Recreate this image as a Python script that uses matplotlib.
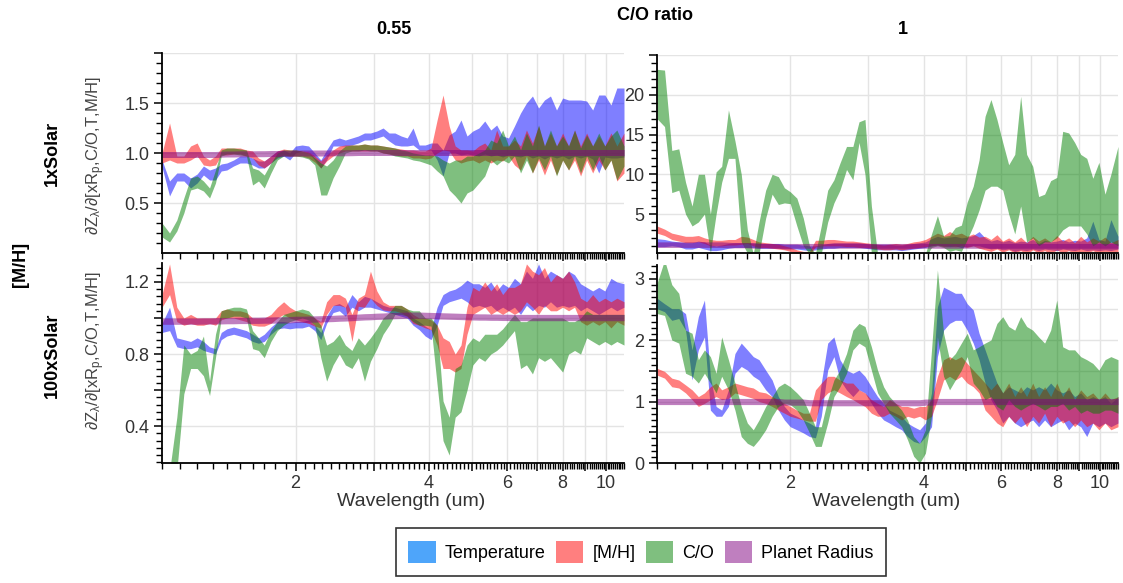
import numpy as np
import matplotlib
matplotlib.use("Agg")
import matplotlib.pyplot as plt
from matplotlib.patches import Patch
from matplotlib.ticker import FixedLocator, NullFormatter

plt.rcParams['font.family'] = ['Liberation Sans', 'DejaVu Sans']
plt.rcParams['mathtext.fontset'] = 'custom'
plt.rcParams['mathtext.rm'] = 'Liberation Sans'
plt.rcParams['mathtext.it'] = 'Liberation Sans'

# ---------------------------------------------------------------- data
SERIES = ["Temperature", "[M/H]", "C/O", "Planet Radius"]
BAND_COLORS = ["#0000ff", "#ff0000", "#008000", "#800080"]
LEGEND_COLORS = ["#4ea5fa", "#ff7f7f", "#7fbf7f", "#bf7fbf"]

WAVE = [1.00, 1.04, 1.08, 1.12, 1.16, 1.20, 1.24, 1.28, 1.32, 1.36,
        1.40, 1.45, 1.50, 1.55, 1.60, 1.65, 1.70, 1.76, 1.82, 1.88,
        1.94, 2.00, 2.07, 2.14, 2.21, 2.28, 2.35, 2.43, 2.51, 2.59,
        2.68, 2.77, 2.86, 2.95, 3.05, 3.15, 3.25, 3.35, 3.46, 3.57,
        3.68, 3.80, 3.92, 4.04, 4.17, 4.30, 4.44, 4.58, 4.72, 4.87,
        5.02, 5.18, 5.34, 5.51, 5.68, 5.86, 6.04, 6.23, 6.43, 6.63,
        6.84, 7.06, 7.28, 7.51, 7.75, 8.00, 8.25, 8.51, 8.78, 9.06,
        9.35, 9.65, 9.96, 10.28, 10.60, 11.00]

# --- 1xSolar, C/O = 0.55
TL_T_LO = [0.86, 0.57, 0.72, 0.72, 0.65, 0.70, 0.78, 0.73, 0.73, 0.82,
           0.83, 0.87, 0.90, 0.90, 0.88, 0.85, 0.85, 0.90, 0.95, 0.97,
           0.93, 1.00, 1.02, 1.00, 0.93, 0.85, 0.93, 1.07, 1.07, 1.07,
           1.08, 1.10, 1.13, 1.13, 1.15, 1.17, 1.12, 1.08, 1.07, 1.07,
           1.08, 1.03, 1.03, 1.03, 0.93, 0.77, 1.00, 1.00, 0.98, 0.99,
           0.98, 0.97, 0.99, 0.97, 0.98, 0.96, 0.98, 0.97, 0.96, 0.98,
           0.95, 0.97, 0.94, 0.97, 0.95, 0.97, 0.94, 0.97, 0.95, 0.97,
           0.94, 0.80, 0.96, 0.95, 0.95, 0.96]
TL_T_HI = [0.93, 0.72, 0.80, 0.80, 0.75, 0.79, 0.87, 0.83, 0.85, 0.89,
           0.90, 0.93, 0.97, 0.97, 0.95, 0.92, 0.92, 0.97, 1.02, 1.03,
           1.00, 1.07, 1.08, 1.07, 1.00, 0.93, 1.03, 1.13, 1.15, 1.13,
           1.15, 1.17, 1.20, 1.20, 1.22, 1.25, 1.20, 1.20, 1.17, 1.15,
           1.25, 1.08, 1.08, 1.10, 1.10, 1.03, 1.18, 1.22, 1.33, 1.17,
           1.22, 1.25, 1.32, 1.23, 1.28, 1.17, 1.15, 1.27, 1.40, 1.50,
           1.57, 1.45, 1.53, 1.57, 1.43, 1.55, 1.53, 1.53, 1.53, 1.52,
           1.43, 1.58, 1.58, 1.48, 1.65, 1.65]
TL_M_LO = [0.90, 0.93, 0.90, 0.90, 0.93, 0.97, 0.88, 0.87, 0.88, 0.98,
           0.98, 0.99, 0.99, 0.97, 0.95, 0.88, 0.85, 0.90, 0.96, 0.98,
           0.97, 0.97, 0.97, 0.95, 0.91, 0.85, 0.92, 0.97, 1.00, 1.02,
           1.02, 1.02, 1.02, 1.02, 1.02, 1.00, 0.99, 0.98, 0.97, 0.97,
           0.95, 0.95, 0.94, 0.95, 1.00, 1.03, 1.02, 0.93, 0.90, 0.92,
           0.93, 0.90, 0.93, 0.90, 0.93, 0.92, 0.97, 0.88, 0.83, 0.97,
           0.80, 0.93, 0.78, 0.93, 0.78, 0.93, 0.83, 0.93, 0.77, 0.93,
           0.80, 0.93, 0.83, 0.93, 0.72, 0.80]
TL_M_HI = [1.00, 1.30, 0.97, 0.97, 1.07, 1.10, 0.97, 0.93, 0.97, 1.05,
           1.05, 1.05, 1.05, 1.03, 1.02, 0.95, 0.92, 0.97, 1.02, 1.04,
           1.03, 1.03, 1.02, 1.01, 0.97, 0.92, 0.98, 1.03, 1.07, 1.08,
           1.08, 1.08, 1.09, 1.08, 1.08, 1.07, 1.06, 1.05, 1.04, 1.03,
           1.03, 1.02, 1.02, 1.05, 1.33, 1.58, 1.27, 1.07, 1.03, 1.03,
           1.02, 1.07, 1.10, 1.03, 1.23, 1.07, 1.07, 1.13, 1.07, 1.23,
           1.10, 1.27, 1.07, 1.20, 1.07, 1.20, 1.07, 1.23, 1.07, 1.20,
           1.07, 1.17, 1.07, 1.20, 1.07, 1.20]
TL_C_LO = [0.16, 0.11, 0.22, 0.40, 0.63, 0.65, 0.62, 0.55, 0.70, 0.97,
           0.99, 0.99, 0.98, 0.97, 0.68, 0.72, 0.65, 0.80, 0.93, 0.97,
           0.97, 0.97, 0.96, 0.94, 0.88, 0.58, 0.58, 0.75, 0.87, 1.00,
           1.02, 1.02, 1.03, 1.02, 1.02, 1.00, 0.99, 0.97, 0.96, 0.95,
           0.93, 0.92, 0.90, 0.88, 0.82, 0.77, 0.63, 0.57, 0.50, 0.60,
           0.63, 0.70, 0.77, 0.93, 0.88, 0.93, 0.90, 0.97, 0.80, 0.93,
           0.80, 0.95, 0.83, 0.97, 0.77, 0.93, 0.83, 0.97, 0.80, 0.97,
           0.83, 0.97, 0.83, 0.93, 0.73, 0.87]
TL_C_HI = [0.30, 0.20, 0.33, 0.55, 0.75, 0.77, 0.72, 0.65, 0.83, 1.03,
           1.05, 1.05, 1.04, 1.03, 0.85, 0.83, 0.78, 0.90, 1.00, 1.03,
           1.03, 1.03, 1.02, 1.00, 0.95, 0.90, 0.87, 0.93, 1.02, 1.07,
           1.08, 1.08, 1.09, 1.08, 1.08, 1.07, 1.06, 1.05, 1.03, 1.02,
           1.00, 0.99, 0.98, 0.98, 0.97, 0.93, 0.90, 0.93, 0.93, 0.97,
           0.97, 1.00, 1.03, 1.13, 1.10, 1.23, 1.07, 1.17, 1.03, 1.20,
           1.07, 1.28, 1.07, 1.23, 1.07, 1.17, 1.07, 1.23, 1.05, 1.18,
           1.07, 1.20, 1.07, 1.17, 1.23, 1.07]
TL_R_LO = [0.955, 0.955, 0.955, 0.955, 0.955, 0.955, 0.955, 0.955, 0.955, 0.958,
           0.960, 0.960, 0.962, 0.962, 0.962, 0.963, 0.963, 0.965, 0.965, 0.967,
           0.967, 0.968, 0.970, 0.970, 0.970, 0.970, 0.970, 0.972, 0.972, 0.972,
           0.973, 0.975, 0.975, 0.975, 0.975, 0.975, 0.975, 0.975, 0.975, 0.975,
           0.975, 0.975, 0.975, 0.975, 0.975, 0.975, 0.975, 0.975, 0.975, 0.975,
           0.975, 0.975, 0.975, 0.975, 0.975, 0.975, 0.975, 0.975, 0.975, 0.975,
           0.975, 0.975, 0.975, 0.975, 0.975, 0.975, 0.975, 0.975, 0.975, 0.975,
           0.975, 0.975, 0.975, 0.975, 0.975, 0.975]
TL_R_HI = [1.015, 1.015, 1.015, 1.015, 1.015, 1.015, 1.015, 1.015, 1.015, 1.018,
           1.020, 1.020, 1.022, 1.022, 1.022, 1.023, 1.023, 1.025, 1.025, 1.027,
           1.027, 1.028, 1.030, 1.030, 1.030, 1.030, 1.030, 1.032, 1.032, 1.032,
           1.033, 1.035, 1.035, 1.035, 1.035, 1.035, 1.035, 1.035, 1.035, 1.035,
           1.035, 1.035, 1.035, 1.035, 1.035, 1.035, 1.035, 1.035, 1.035, 1.035,
           1.035, 1.035, 1.035, 1.035, 1.035, 1.035, 1.035, 1.035, 1.035, 1.035,
           1.035, 1.035, 1.035, 1.035, 1.035, 1.035, 1.035, 1.035, 1.035, 1.035,
           1.035, 1.035, 1.035, 1.035, 1.035, 1.035]

# --- 1xSolar, C/O = 1
TR_T_LO = [0.9, 0.9, 1.0, 0.9, 0.6, 0.6, 0.8, 0.6, 0.4, 0.4,
           0.5, 0.7, 0.8, 0.8, 0.8, 0.8, 0.7, 0.7, 0.7, 0.7,
           0.6, 0.6, 0.6, 0.5, 0.4, 0.5, 0.6, 0.7, 0.7, 0.8,
           0.8, 0.8, 0.8, 0.7, 0.6, 0.5, 0.5, 0.5, 0.5, 0.4,
           0.5, 0.6, 0.7, 0.8, 1.0, 1.1, 1.0, 0.9, 1.0, 0.8,
           0.9, 1.0, 1.0, 0.8, 0.6, 0.7, 0.5, 0.6, 0.3, 0.5,
           0.4, 0.6, 0.4, 0.6, 0.5, 0.4, 0.6, 0.5, 0.4, 0.6,
           0.4, 0.5, 0.4, 0.5, 0.4, 0.6]
TR_T_HI = [1.9, 1.8, 1.6, 1.5, 1.4, 1.4, 1.6, 1.5, 1.1, 1.0,
           1.1, 1.3, 1.4, 1.4, 1.4, 1.4, 1.3, 1.3, 1.3, 1.3,
           1.2, 1.2, 1.2, 1.1, 1.0, 1.0, 1.1, 1.3, 1.4, 1.4,
           1.4, 1.4, 1.4, 1.3, 1.2, 1.2, 1.2, 1.2, 1.1, 1.1,
           1.2, 1.3, 1.4, 1.5, 1.9, 2.2, 2.0, 2.1, 2.2, 2.0,
           2.1, 2.3, 2.8, 2.0, 1.6, 1.8, 1.5, 1.7, 1.4, 1.6,
           1.5, 1.8, 1.3, 1.7, 1.5, 1.6, 1.8, 1.5, 1.7, 1.6,
           2.0, 4.1, 1.8, 1.6, 4.3, 2.2]
TR_M_LO = [2.6, 2.3, 1.8, 1.6, 1.4, 1.4, 1.5, 1.3, 1.0, 1.0,
           1.0, 1.1, 1.1, 1.2, 1.3, 1.0, 0.8, 0.8, 0.7, 0.6,
           0.5, 0.3, 0.0, -0.2, -0.2, 0.9, 1.0, 1.0, 1.0, 1.0,
           0.9, 0.9, 0.8, 0.8, 0.7, 0.6, 0.5, 0.5, 0.6, 0.5,
           0.6, 0.7, 0.8, 0.9, 1.0, 1.1, 0.9, 1.0, 0.9, 1.0,
           0.8, 1.0, 0.7, 0.5, 0.3, 0.6, 0.2, 0.5, 0.1, 0.4,
           0.0, 0.5, 0.1, 0.4, 0.0, 0.5, 0.1, 0.4, 0.0, 0.3,
           0.1, 0.4, 0.0, 0.3, 0.1, 0.3]
TR_M_HI = [3.5, 3.1, 2.6, 2.4, 2.2, 2.2, 2.3, 2.0, 1.8, 1.7,
           1.7, 1.8, 1.8, 2.2, 2.1, 1.8, 1.5, 1.4, 1.3, 1.2,
           1.0, 0.8, 0.5, 0.3, 0.3, 1.7, 1.7, 1.8, 1.8, 1.7,
           1.6, 1.6, 1.5, 1.4, 1.3, 1.2, 1.1, 1.2, 1.3, 1.2,
           1.3, 1.5, 1.6, 1.8, 2.2, 2.6, 2.3, 2.8, 2.4, 2.6,
           2.2, 2.5, 2.1, 2.2, 1.8, 2.4, 1.6, 2.0, 1.5, 2.1,
           1.4, 2.2, 1.6, 2.0, 1.5, 2.3, 1.6, 2.0, 1.4, 2.2,
           1.5, 2.0, 1.6, 2.1, 1.4, 1.8]
TR_C_LO = [17.0, 16.0, 7.7, 8.0, 5.0, 3.5, 4.0, 5.0, 0.1, 5.0,
           9.0, 12.0, 12.0, 1.5, 0.1, -0.5, 0.0, 4.5, 7.5, 6.2,
           6.4, 6.3, 3.5, 1.0, 0.0, -0.5, 0.0, 4.0, 6.4, 8.0,
           10.6, 9.3, 14.0, 10.0, 0.0, -0.5, -0.5, -0.5, -0.5, -0.5,
           -0.5, -0.5, -0.5, -0.5, 0.8, 1.0, 0.8, 0.3, 0.5, 0.3,
           1.8, 3.5, 5.5, 8.0, 8.5, 8.5, 8.0, 5.0, 2.5, 6.0,
           1.5, 2.0, 1.0, 1.5, 1.5, 2.0, 3.0, 3.5, 3.5, 3.5,
           2.5, 1.0, 1.5, 1.0, 1.5, 1.0]
TR_C_HI = [23.2, 23.1, 13.0, 13.2, 9.0, 6.0, 10.0, 10.0, 5.0, 10.3,
           11.0, 18.1, 14.2, 10.0, 3.0, 0.0, 4.0, 8.0, 10.0, 9.7,
           8.3, 7.8, 7.0, 4.5, 1.0, 0.0, 3.5, 8.0, 9.3, 11.4,
           13.5, 13.5, 16.6, 16.9, 6.0, 0.0, 0.0, 0.0, 0.0, 0.0,
           0.0, 0.0, 0.0, 0.0, 2.5, 4.8, 2.2, 2.3, 3.3, 3.6,
           6.5, 8.5, 11.8, 17.3, 19.4, 16.9, 14.0, 11.2, 12.5, 19.8,
           12.5, 11.0, 7.2, 7.5, 9.2, 9.6, 15.4, 15.2, 14.0, 12.5,
           12.0, 9.5, 11.5, 7.5, 10.0, 13.5]
TR_R_LO = [0.8, 0.8, 0.8, 0.8, 0.8, 0.8, 0.8, 0.8, 0.8, 0.8,
           0.8, 0.75, 0.75, 0.75, 0.75, 0.7, 0.7, 0.7, 0.7, 0.7,
           0.7, 0.7, 0.7, 0.7, 0.7, 0.7, 0.7, 0.7, 0.7, 0.7,
           0.7, 0.7, 0.7, 0.7, 0.7, 0.7, 0.7, 0.7, 0.7, 0.7,
           0.7, 0.7, 0.7, 0.7, 0.7, 0.7, 0.7, 0.7, 0.7, 0.7,
           0.7, 0.7, 0.7, 0.7, 0.7, 0.7, 0.7, 0.7, 0.7, 0.7,
           0.7, 0.7, 0.7, 0.7, 0.7, 0.7, 0.7, 0.7, 0.7, 0.7,
           0.7, 0.7, 0.7, 0.7, 0.7, 0.7]
TR_R_HI = [1.5, 1.5, 1.5, 1.5, 1.5, 1.5, 1.5, 1.5, 1.5, 1.5,
           1.5, 1.45, 1.4, 1.4, 1.4, 1.35, 1.35, 1.3, 1.3, 1.3,
           1.3, 1.3, 1.3, 1.3, 1.3, 1.3, 1.3, 1.3, 1.3, 1.3,
           1.3, 1.3, 1.3, 1.3, 1.3, 1.3, 1.3, 1.3, 1.3, 1.3,
           1.3, 1.3, 1.3, 1.3, 1.3, 1.3, 1.3, 1.3, 1.3, 1.3,
           1.3, 1.3, 1.3, 1.3, 1.3, 1.3, 1.3, 1.3, 1.3, 1.3,
           1.3, 1.3, 1.3, 1.3, 1.3, 1.3, 1.3, 1.3, 1.3, 1.3,
           1.3, 1.3, 1.3, 1.3, 1.3, 1.3]

# --- 100xSolar, C/O = 0.55
BL_T_LO = [0.92, 0.93, 0.84, 0.83, 0.83, 0.84, 0.82, 0.81, 0.80, 0.88,
           0.90, 0.91, 0.90, 0.89, 0.87, 0.86, 0.87, 0.91, 0.94, 0.945,
           0.94, 0.945, 0.945, 0.955, 0.93, 0.88, 0.97, 1.03, 1.04, 1.01,
           1.06, 1.04, 1.06, 1.06, 1.05, 1.04, 1.03, 1.02, 1.01, 1.00,
           0.96, 0.935, 0.90, 0.88, 0.96, 1.07, 1.09, 1.10, 1.11, 1.09,
           1.06, 1.07, 1.06, 1.07, 1.04, 1.06, 1.04, 1.06, 1.02, 1.07,
           1.04, 1.07, 1.06, 1.09, 1.06, 1.07, 1.06, 1.07, 1.04, 1.06,
           1.04, 1.02, 1.04, 1.06, 1.04, 1.06]
BL_T_HI = [0.97, 1.06, 0.89, 0.88, 0.87, 0.89, 0.87, 0.84, 0.83, 0.92,
           0.94, 0.95, 0.94, 0.93, 0.91, 0.89, 0.91, 0.95, 0.98, 0.98,
           0.975, 0.98, 0.98, 0.99, 0.96, 0.92, 1.01, 1.07, 1.08, 1.06,
           1.13, 1.09, 1.12, 1.11, 1.09, 1.07, 1.06, 1.06, 1.05, 1.04,
           1.00, 0.98, 0.955, 0.935, 1.06, 1.13, 1.15, 1.16, 1.18, 1.21,
           1.19, 1.19, 1.17, 1.20, 1.15, 1.19, 1.17, 1.22, 1.19, 1.26,
           1.22, 1.30, 1.22, 1.26, 1.24, 1.22, 1.26, 1.24, 1.19, 1.17,
           1.15, 1.17, 1.15, 1.22, 1.20, 1.19]
BL_M_LO = [1.06, 1.13, 0.98, 0.96, 0.97, 0.96, 0.96, 0.97, 0.96, 0.99,
           1.00, 1.00, 0.99, 0.98, 0.96, 0.955, 0.955, 0.97, 1.00, 1.02,
           1.00, 0.99, 0.98, 0.97, 0.955, 0.945, 1.02, 1.07, 1.07, 1.06,
           0.87, 1.065, 1.06, 1.11, 1.07, 1.045, 1.04, 1.04, 1.03, 1.01,
           0.97, 0.96, 0.945, 0.935, 0.85, 0.72, 0.72, 0.70, 0.72, 0.91,
           1.02, 1.04, 1.06, 1.02, 1.04, 1.02, 1.04, 1.02, 1.04, 1.09,
           1.06, 1.02, 1.07, 1.04, 1.04, 1.06, 1.04, 1.06, 0.98, 0.96,
           0.98, 0.96, 0.98, 0.945, 0.98, 0.96]
BL_M_HI = [1.13, 1.30, 1.06, 1.00, 1.02, 1.00, 1.00, 1.00, 1.00, 1.04,
           1.05, 1.04, 1.04, 1.03, 1.00, 1.00, 1.00, 1.02, 1.06, 1.09,
           1.06, 1.04, 1.03, 1.02, 1.00, 0.98, 1.09, 1.13, 1.13, 1.11,
           1.02, 1.11, 1.13, 1.26, 1.15, 1.09, 1.07, 1.07, 1.07, 1.05,
           1.02, 1.00, 1.00, 0.99, 0.96, 0.89, 0.87, 0.80, 0.85, 1.06,
           1.17, 1.15, 1.20, 1.15, 1.19, 1.13, 1.17, 1.17, 1.19, 1.30,
           1.26, 1.24, 1.28, 1.20, 1.24, 1.22, 1.26, 1.20, 1.11, 1.09,
           1.13, 1.09, 1.11, 1.09, 1.11, 1.09]
BL_C_LO = [0.00, 0.00, 0.15, 0.58, 0.72, 0.72, 0.68, 0.57, 0.78, 1.00,
           1.00, 1.01, 1.01, 1.00, 0.83, 0.82, 0.78, 0.87, 0.93, 0.96,
           0.98, 0.99, 1.00, 0.99, 0.96, 0.78, 0.65, 0.74, 0.80, 0.74,
           0.72, 0.78, 0.65, 0.76, 0.83, 0.91, 0.96, 1.02, 1.02, 1.01,
           0.98, 0.96, 0.96, 0.955, 0.63, 0.32, 0.24, 0.45, 0.48, 0.60,
           0.74, 0.78, 0.76, 0.80, 0.82, 0.85, 0.89, 0.93, 0.72, 0.74,
           0.69, 0.78, 0.76, 0.78, 0.74, 0.70, 0.80, 0.82, 0.80, 0.89,
           0.87, 0.85, 0.87, 0.85, 0.87, 0.85]
BL_C_HI = [0.10, 0.15, 0.45, 0.85, 0.80, 0.82, 0.90, 0.65, 0.91, 1.04,
           1.05, 1.06, 1.06, 1.05, 0.93, 0.89, 0.85, 0.93, 0.98, 1.02,
           1.03, 1.04, 1.05, 1.04, 1.00, 0.96, 0.85, 0.87, 0.91, 0.85,
           0.82, 0.89, 0.85, 0.89, 0.94, 1.00, 1.03, 1.07, 1.07, 1.05,
           1.04, 1.04, 1.00, 1.00, 0.96, 0.54, 0.45, 0.72, 0.74, 0.85,
           0.89, 0.87, 0.91, 0.91, 0.91, 0.94, 0.98, 1.02, 0.98, 0.98,
           1.00, 1.00, 1.00, 1.00, 1.00, 1.00, 0.98, 0.98, 1.00, 1.04,
           1.02, 1.02, 1.02, 1.02, 1.02, 1.02]
BL_R_LO = [0.965, 0.965, 0.965, 0.965, 0.965, 0.965, 0.966, 0.966, 0.967, 0.967,
           0.968, 0.968, 0.969, 0.969, 0.970, 0.970, 0.971, 0.971, 0.972, 0.972,
           0.973, 0.975, 0.975, 0.976, 0.977, 0.978, 0.979, 0.980, 0.982, 0.983,
           0.985, 0.987, 0.989, 0.990, 0.992, 0.993, 0.995, 0.996, 0.997, 0.998,
           0.998, 0.998, 0.997, 0.996, 0.995, 0.994, 0.993, 0.992, 0.991, 0.990,
           0.989, 0.988, 0.988, 0.987, 0.987, 0.986, 0.986, 0.985, 0.985, 0.985,
           0.985, 0.985, 0.985, 0.985, 0.985, 0.985, 0.985, 0.985, 0.985, 0.985,
           0.985, 0.985, 0.985, 0.985, 0.985, 0.985]
BL_R_HI = [1.000, 1.000, 1.000, 1.000, 1.000, 1.000, 1.001, 1.001, 1.002, 1.002,
           1.003, 1.003, 1.004, 1.004, 1.005, 1.005, 1.006, 1.006, 1.007, 1.007,
           1.008, 1.010, 1.010, 1.011, 1.012, 1.013, 1.014, 1.015, 1.017, 1.018,
           1.020, 1.022, 1.024, 1.025, 1.027, 1.028, 1.030, 1.031, 1.032, 1.033,
           1.033, 1.033, 1.032, 1.031, 1.030, 1.029, 1.028, 1.027, 1.026, 1.025,
           1.024, 1.023, 1.023, 1.022, 1.022, 1.021, 1.021, 1.020, 1.020, 1.020,
           1.020, 1.020, 1.020, 1.020, 1.020, 1.020, 1.020, 1.020, 1.020, 1.020,
           1.020, 1.020, 1.020, 1.020, 1.020, 1.020]

# --- 100xSolar, C/O = 1
BR_T_LO = [2.51, 2.46, 2.32, 2.35, 2.16, 1.35, 1.84, 2.05, 0.86, 0.76,
           0.76, 0.92, 1.46, 1.57, 1.51, 1.41, 1.35, 1.19, 1.08, 0.86,
           0.70, 0.59, 0.54, 0.49, 0.43, 0.41, 0.76, 1.51, 1.73, 1.35,
           1.19, 1.08, 1.19, 1.14, 0.97, 0.81, 0.70, 0.65, 0.59, 0.54,
           0.43, 0.35, 0.32, 0.43, 0.59, 1.73, 2.16, 2.27, 2.32, 2.32,
           2.16, 1.95, 1.68, 1.30, 1.03, 0.86, 0.65, 0.76, 0.65, 0.59,
           0.65, 0.70, 0.59, 0.70, 0.59, 0.65, 0.70, 0.54, 0.65, 0.59,
           0.43, 0.65, 0.59, 0.65, 0.59, 0.65]
BR_T_HI = [2.68, 2.59, 2.51, 2.51, 2.43, 1.84, 2.38, 2.65, 1.41, 0.92,
           0.86, 1.19, 1.78, 1.95, 1.84, 1.73, 1.68, 1.51, 1.35, 1.08,
           0.92, 0.81, 0.76, 0.70, 0.65, 0.59, 1.30, 1.95, 2.05, 1.68,
           1.51, 1.46, 1.51, 1.41, 1.24, 1.08, 0.97, 0.86, 0.81, 0.76,
           0.65, 0.59, 0.54, 0.65, 1.14, 2.54, 2.86, 2.81, 2.76, 2.76,
           2.59, 2.49, 2.11, 1.84, 1.57, 1.30, 1.14, 1.24, 1.19, 1.14,
           1.24, 1.19, 1.24, 1.19, 1.30, 1.19, 1.14, 1.19, 1.08, 1.14,
           1.03, 1.08, 1.03, 1.08, 0.97, 1.08]
BR_M_LO = [1.43, 1.38, 1.24, 1.22, 1.14, 1.03, 0.92, 0.97, 1.03, 1.08,
           1.03, 1.05, 1.14, 1.11, 1.08, 1.05, 1.00, 0.97, 0.92, 0.86,
           0.81, 0.76, 0.73, 0.70, 0.68, 0.68, 1.03, 1.14, 1.19, 1.14,
           1.08, 1.03, 0.97, 0.92, 0.81, 0.76, 0.76, 0.81, 0.76, 0.70,
           0.76, 0.73, 0.76, 0.70, 0.76, 1.03, 1.35, 1.41, 1.35, 1.41,
           1.30, 1.24, 1.14, 0.86, 0.76, 0.65, 0.59, 0.76, 0.65, 0.76,
           0.59, 0.76, 0.65, 0.81, 0.59, 0.76, 0.65, 0.70, 0.59, 0.70,
           0.59, 0.65, 0.54, 0.65, 0.54, 0.59]
BR_M_HI = [1.54, 1.49, 1.38, 1.35, 1.27, 1.19, 1.08, 1.14, 1.24, 1.30,
           1.19, 1.24, 1.30, 1.27, 1.24, 1.22, 1.16, 1.14, 1.08, 1.03,
           0.97, 0.92, 0.86, 0.81, 0.81, 1.19, 1.30, 1.41, 1.41, 1.35,
           1.30, 1.30, 1.19, 1.14, 1.03, 0.97, 0.92, 1.03, 0.97, 0.92,
           0.92, 0.89, 0.92, 0.92, 1.03, 1.41, 1.68, 1.73, 1.68, 1.73,
           1.62, 1.51, 1.41, 1.30, 1.19, 1.30, 1.14, 1.30, 1.08, 1.24,
           1.08, 1.30, 1.08, 1.24, 1.08, 1.30, 1.08, 1.24, 1.03, 1.19,
           1.08, 1.14, 1.03, 1.14, 1.03, 1.08]
BR_C_LO = [2.43, 2.40, 2.00, 1.95, 1.46, 1.41, 1.30, 1.46, 1.30, 1.14,
           1.41, 1.19, 0.86, 0.43, 0.32, 0.27, 0.38, 0.54, 0.76, 0.92,
           0.97, 0.95, 0.86, 0.70, 0.49, 0.27, 0.27, 0.65, 1.08, 1.24,
           1.46, 1.84, 1.95, 1.89, 1.51, 1.14, 0.97, 0.81, 0.70, 0.59,
           0.38, 0.11, 0.00, 0.16, 0.76, 2.05, 1.41, 1.19, 1.35, 1.51,
           1.73, 1.30, 1.19, 1.03, 1.08, 0.92, 0.86, 1.03, 0.92, 0.86,
           0.92, 0.97, 0.92, 0.86, 0.92, 0.92, 0.97, 0.86, 0.92, 0.81,
           0.86, 0.81, 0.81, 0.86, 0.86, 0.81]
BR_C_HI = [2.92, 3.30, 2.90, 2.76, 2.16, 2.11, 1.68, 1.84, 1.73, 1.46,
           2.05, 1.68, 1.30, 0.92, 0.65, 0.54, 0.70, 0.92, 1.08, 1.24,
           1.30, 1.24, 1.14, 1.03, 0.81, 0.59, 0.59, 1.03, 1.35, 1.51,
           1.78, 2.16, 2.27, 2.22, 1.89, 1.51, 1.24, 1.08, 0.97, 0.86,
           0.70, 0.43, 0.32, 0.54, 1.84, 3.14, 2.11, 1.68, 1.78, 1.95,
           2.11, 1.84, 1.89, 1.95, 2.00, 2.27, 2.38, 2.22, 2.16, 2.38,
           2.22, 2.16, 2.05, 1.95, 2.16, 2.65, 1.89, 1.84, 1.84, 1.73,
           1.68, 1.62, 1.51, 1.68, 1.73, 1.68]
BR_R_LO = [0.95, 0.95, 0.95, 0.95, 0.95, 0.95, 0.95, 0.95, 0.95, 0.95,
           0.95, 0.95, 0.95, 0.95, 0.95, 0.95, 0.95, 0.95, 0.95, 0.95,
           0.94, 0.94, 0.94, 0.94, 0.93, 0.93, 0.93, 0.93, 0.93, 0.93,
           0.93, 0.93, 0.93, 0.93, 0.93, 0.93, 0.93, 0.93, 0.93, 0.93,
           0.93, 0.93, 0.93, 0.94, 0.94, 0.95, 0.95, 0.95, 0.95, 0.95,
           0.95, 0.95, 0.95, 0.95, 0.95, 0.95, 0.95, 0.95, 0.95, 0.95,
           0.95, 0.95, 0.95, 0.95, 0.95, 0.95, 0.95, 0.95, 0.95, 0.95,
           0.95, 0.95, 0.95, 0.95, 0.95, 0.95]
BR_R_HI = [1.05, 1.05, 1.05, 1.05, 1.05, 1.05, 1.05, 1.05, 1.05, 1.05,
           1.05, 1.05, 1.05, 1.05, 1.05, 1.05, 1.05, 1.05, 1.05, 1.05,
           1.04, 1.04, 1.04, 1.04, 1.03, 1.03, 1.03, 1.03, 1.03, 1.03,
           1.03, 1.03, 1.03, 1.03, 1.03, 1.03, 1.03, 1.03, 1.03, 1.03,
           1.03, 1.03, 1.03, 1.04, 1.04, 1.05, 1.05, 1.05, 1.05, 1.05,
           1.05, 1.05, 1.05, 1.05, 1.05, 1.05, 1.05, 1.05, 1.05, 1.05,
           1.05, 1.05, 1.05, 1.05, 1.05, 1.05, 1.05, 1.05, 1.05, 1.05,
           1.05, 1.05, 1.05, 1.05, 1.05, 1.05]

X_MAJOR = [2, 3, 4, 5, 6, 7, 8, 9, 10]
X_LABELS = ["2", "", "4", "", "6", "", "8", "", "10"]

# ---------------------------------------------------------------- figure
W, H = 1123, 583
fig = plt.figure(figsize=(W / 100, H / 100), dpi=100)


def px_axes(left, top, right, bottom):
    return fig.add_axes([left / W, 1 - bottom / H, (right - left) / W, (bottom - top) / H])


def draw_panel(ax, bands, ylim, yticks, ylabels, yminor, show_x):
    for (lo, hi), color in zip(bands, BAND_COLORS):
        ax.fill_between(WAVE, lo, hi, color=color, alpha=0.5, linewidth=0)

    ax.set_xscale("log")
    ax.set_xlim(1.0, 11.0)
    ax.set_ylim(*ylim)

    ax.xaxis.set_major_locator(FixedLocator(X_MAJOR))
    minor_x = [v for v in np.round(np.arange(1.0, 11.001, 0.1), 1) if v not in X_MAJOR]
    ax.xaxis.set_minor_locator(FixedLocator(minor_x))
    ax.xaxis.set_minor_formatter(NullFormatter())
    ax.set_xticklabels(X_LABELS if show_x else [""] * len(X_MAJOR))

    ax.set_yticks(yticks)
    ax.set_yticklabels(ylabels)
    ax.yaxis.set_minor_locator(FixedLocator(yminor))

    ax.grid(which="major", color="#e4e4e4", linewidth=1.0)
    ax.set_axisbelow(True)
    for side in ("top", "right"):
        ax.spines[side].set_visible(False)
    for side in ("left", "bottom"):
        ax.spines[side].set_linewidth(1.3)
        ax.spines[side].set_color("black")
    ax.tick_params(which="major", direction="out", length=6, width=1.1,
                   color="black", labelcolor="#333333", labelsize=13, pad=3)
    ax.tick_params(which="minor", direction="out", length=4, width=1.0, color="black")


ax_tl = px_axes(162, 53, 624, 253)
draw_panel(ax_tl,
           [(TL_T_LO, TL_T_HI), (TL_M_LO, TL_M_HI), (TL_C_LO, TL_C_HI), (TL_R_LO, TL_R_HI)],
           (0.0, 2.0), [0.5, 1.0, 1.5, 2.0], ["0.5", "1.0", "1.5", ""],
           np.round(np.arange(0.1, 2.0, 0.1), 2), False)

ax_tr = px_axes(657, 55, 1118, 253)
draw_panel(ax_tr,
           [(TR_T_LO, TR_T_HI), (TR_M_LO, TR_M_HI), (TR_C_LO, TR_C_HI), (TR_R_LO, TR_R_HI)],
           (0.1, 25.0), [5, 10, 15, 20, 25], ["5", "10", "15", "20", ""],
           np.arange(1, 25, 1), False)

ax_bl = px_axes(162, 263, 624, 463)
draw_panel(ax_bl,
           [(BL_T_LO, BL_T_HI), (BL_M_LO, BL_M_HI), (BL_C_LO, BL_C_HI), (BL_R_LO, BL_R_HI)],
           (0.196, 1.305), [0.4, 0.6, 0.8, 1.0, 1.2], ["0.4", "", "0.8", "", "1.2"],
           np.round(np.arange(0.2, 1.3, 0.04), 2), True)

ax_br = px_axes(657, 265, 1118, 463)
draw_panel(ax_br,
           [(BR_T_LO, BR_T_HI), (BR_M_LO, BR_M_HI), (BR_C_LO, BR_C_HI), (BR_R_LO, BR_R_HI)],
           (0.0, 3.22), [0, 0.5, 1, 1.5, 2, 2.5, 3], ["0", "", "1", "", "2", "", "3"],
           np.round(np.arange(0.1, 3.22, 0.1), 2), True)

# ---------------------------------------------------------------- labels
def ftext(x, y, s, **kw):
    fig.text(x / W, 1 - y / H, s, ha="center", va="center", **kw)


ftext(655, 15, "C/O ratio", fontsize=13, weight="bold")
ftext(394, 30, "0.55", fontsize=13, weight="bold")
ftext(903, 30, "1", fontsize=13, weight="bold")
ftext(21, 264, "[M/H]", fontsize=13, weight="bold", rotation=90)
ftext(52, 153, "1xSolar", fontsize=13, weight="bold", rotation=90)
ftext(52, 355, "100xSolar", fontsize=13, weight="bold", rotation=90)

ylab = r"$\partial$Z$_\lambda$/$\partial$[xR$_p$,C/O,T,M/H]"
ftext(95, 155, ylab, fontsize=12, color="#444444", rotation=90)
ftext(95, 350, ylab, fontsize=12, color="#444444", rotation=90)

ftext(411, 502, "Wavelength (um)", fontsize=14, color="#333333")
ftext(886, 502, "Wavelength (um)", fontsize=14, color="#333333")

handles = [Patch(facecolor=c, edgecolor="none") for c in LEGEND_COLORS]
leg = fig.legend(handles, SERIES, loc="center", bbox_to_anchor=(641 / W, 1 - 552 / H),
                 ncol=4, frameon=True, fancybox=False, fontsize=13,
                 handlelength=1.5, handleheight=1.5, handletextpad=0.5,
                 columnspacing=0.6, borderpad=0.7)
leg.get_frame().set_edgecolor("black")
leg.get_frame().set_linewidth(1.2)

fig.savefig("out.png", dpi=100)
